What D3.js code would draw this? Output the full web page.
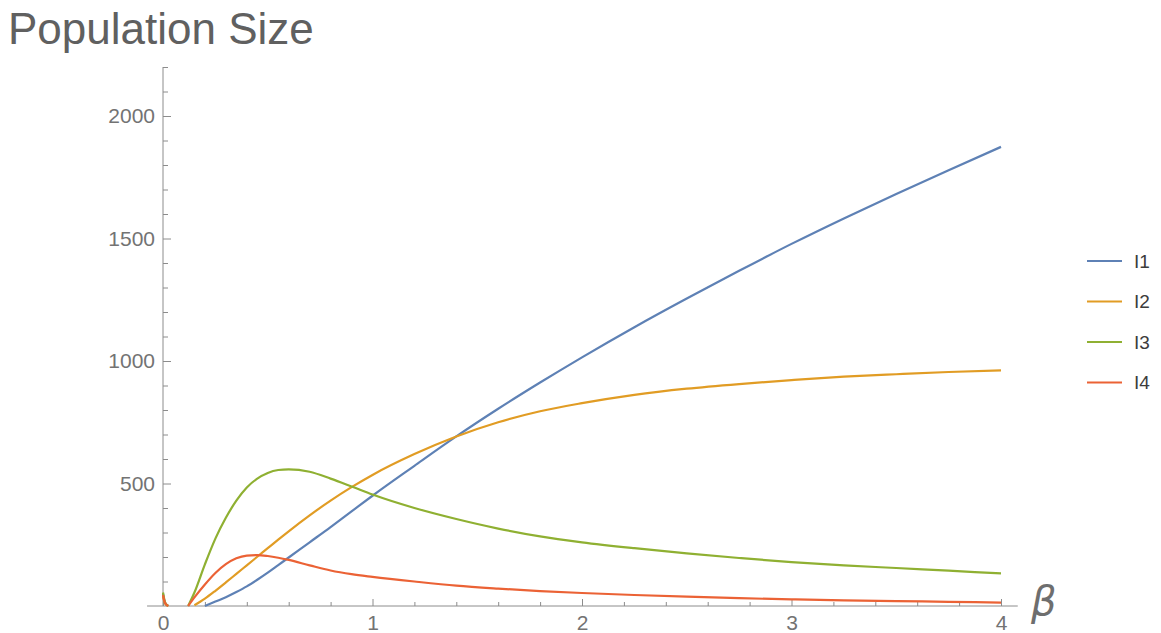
<!DOCTYPE html>
<html lang="en">
    <head>
        <meta charset="utf-8">
        <title>Population Size</title>
        <script src="https://d3js.org/d3.v7.min.js"></script>
        <style type="text/css">
            body{
                margin: 0;
                background: white;
            }
            .title{
                font-family: "Liberation Sans", Arial, sans-serif;
                font-size: 44px;
                fill: rgb(96, 96, 96);
            }
            .tick text{
                font-family: "Liberation Sans", Arial, sans-serif;
                font-size: 21px;
                fill: rgb(115, 115, 115);
            }
            .legend text{
                font-family: "Liberation Sans", Arial, sans-serif;
                font-size: 19px;
                fill: rgb(60, 60, 60);
            }
        </style>
    </head>
    <body>
        <script type="text/javascript">
            // data (null = not drawn)
            const beta = [0, 0.01, 0.025, 0.05, 0.12, 0.15, 0.2, 0.25, 0.3, 0.35, 0.4, 0.45, 0.5, 0.55, 0.6, 0.7, 0.8, 0.9,
                          1.0, 1.2, 1.4, 1.6, 1.8, 2.0, 2.25, 2.5, 2.75, 3.0, 3.25, 3.5, 3.75, 4.0];
            const seriesNames = ["I1", "I2", "I3", "I4"];
            const i1 = [50, 12, 0, null, null, null, 0, 18, 36, 57, 80, 107, 136, 167, 198, 260, 322, 386,
                        450, 572, 692, 805, 912, 1015, 1138, 1255, 1368, 1478, 1582, 1682, 1779, 1874];
            const i2 = [40, 10, 0, null, null, 3, 30, 62, 96, 131, 166, 201, 236, 271, 305, 370, 430, 485,
                        535, 620, 692, 750, 795, 828, 862, 887, 906, 922, 936, 946, 955, 962];
            const i3 = [55, 15, 0, null, 0, 55, 170, 275, 360, 430, 484, 520, 543, 555, 558, 548, 520, 488,
                        455, 400, 355, 316, 284, 260, 236, 215, 196, 179, 166, 155, 144, 133];
            const i4 = [45, 12, 0, null, 0, 35, 88, 135, 171, 195, 206, 208, 204, 197, 188, 166, 145, 130,
                        119, 100, 83, 71, 61, 53, 45, 38, 32, 27, 23, 20, 17, 14];
            const yMajor = [500, 1000, 1500, 2000];
            const xMajor = [0, 1, 2, 3, 4];

            //constants
            const w = 1161;
            const h = 633;
            const myColor = d3.scaleOrdinal(seriesNames, ["#5e81b5", "#e19c24", "#8fb032", "#eb6235"]);
            const axisColor = "rgb(140, 140, 140)";

            //scales
            const x = d3.scaleLinear().domain([0, 4]).range([163, 1001]);
            const y = d3.scaleLinear().domain([0, 2200]).range([606, 67]);

            //SVG
            const svg = d3.select("body")
                          .append("svg")
                          .attr("width", w)
                          .attr("height", h);

            //title
            svg.append("text")
               .attr("class", "title")
               .attr("x", 8)
               .attr("y", 44)
               .text("Population Size");

            //x axis line (runs a bit past the data)
            svg.append("line")
               .attr("x1", x(-0.076)).attr("x2", x(4.08))
               .attr("y1", y(0)).attr("y2", y(0))
               .attr("stroke", axisColor);

            //y axis line
            svg.append("line")
               .attr("x1", x(0)).attr("x2", x(0))
               .attr("y1", y(0)).attr("y2", y(2200))
               .attr("stroke", axisColor);

            //minor ticks
            const xMinor = d3.range(0.2, 4.01, 0.2).filter(v => Math.abs(v - Math.round(v)) > 0.01);
            const yMinor = d3.range(100, 2201, 100).filter(v => v % 500 != 0);

            const xMinorAxis = svg.append("g")
                .attr("transform", "translate(0," + y(0) + ")")
                .call(d3.axisBottom(x).tickValues(xMinor).tickFormat("").tickSize(-4).tickSizeOuter(0));
            const xAxis = svg.append("g")
                .attr("transform", "translate(0," + y(0) + ")")
                .call(d3.axisBottom(x).tickValues(xMajor).tickFormat(d3.format("d")).tickSize(-7).tickPadding(9).tickSizeOuter(0));
            const yMinorAxis = svg.append("g")
                .attr("transform", "translate(" + x(0) + ",0)")
                .call(d3.axisLeft(y).tickValues(yMinor).tickFormat("").tickSize(-5).tickSizeOuter(0));
            const yAxis = svg.append("g")
                .attr("transform", "translate(" + x(0) + ",0)")
                .call(d3.axisLeft(y).tickValues(yMajor).tickFormat(d3.format("d")).tickSize(-8).tickPadding(8).tickSizeOuter(0));

            [xMinorAxis, xAxis, yMinorAxis, yAxis].forEach(g => {
                g.select(".domain").remove();
                g.selectAll("line").attr("stroke", axisColor);
                g.attr("font-family", null).attr("font-size", null);
            });

            //beta label
            svg.append("text")
               .attr("x", 1031)
               .attr("y", 615)
               .attr("font-family", "'DejaVu Sans', sans-serif")
               .attr("font-style", "italic")
               .attr("font-size", "40px")
               .attr("fill", "rgb(110, 110, 110)")
               .text("β");

            //lines
            const allSeries = [i1, i2, i3, i4].map((vals, i) => ({
                name: seriesNames[i],
                points: vals.map((v, j) => ({b: beta[j], v: v}))
            }));

            const line = d3.line()
                           .defined(d => d.v != null)
                           .x(d => x(d.b))
                           .y(d => y(d.v))
                           .curve(d3.curveMonotoneX);

            svg.selectAll("path.series")
               .data(allSeries)
               .enter()
               .append("path")
               .attr("class", "series")
               .attr("fill", "none")
               .attr("stroke", d => myColor(d.name))
               .attr("stroke-width", 2.2)
               .attr("d", d => line(d.points));

            //legend
            const legend = svg.selectAll("g.legend")
                              .data(seriesNames)
                              .enter()
                              .append("g")
                              .attr("class", "legend")
                              .attr("transform", (d, i) => "translate(1087," + (261 + i * 40.5) + ")");

            legend.append("line")
                  .attr("x1", 0).attr("x2", 35)
                  .attr("stroke", d => myColor(d))
                  .attr("stroke-width", 2.2);

            legend.append("text")
                  .attr("x", 47)
                  .attr("dy", "0.35em")
                  .text(d => d);
        </script>
    </body>
</html>
